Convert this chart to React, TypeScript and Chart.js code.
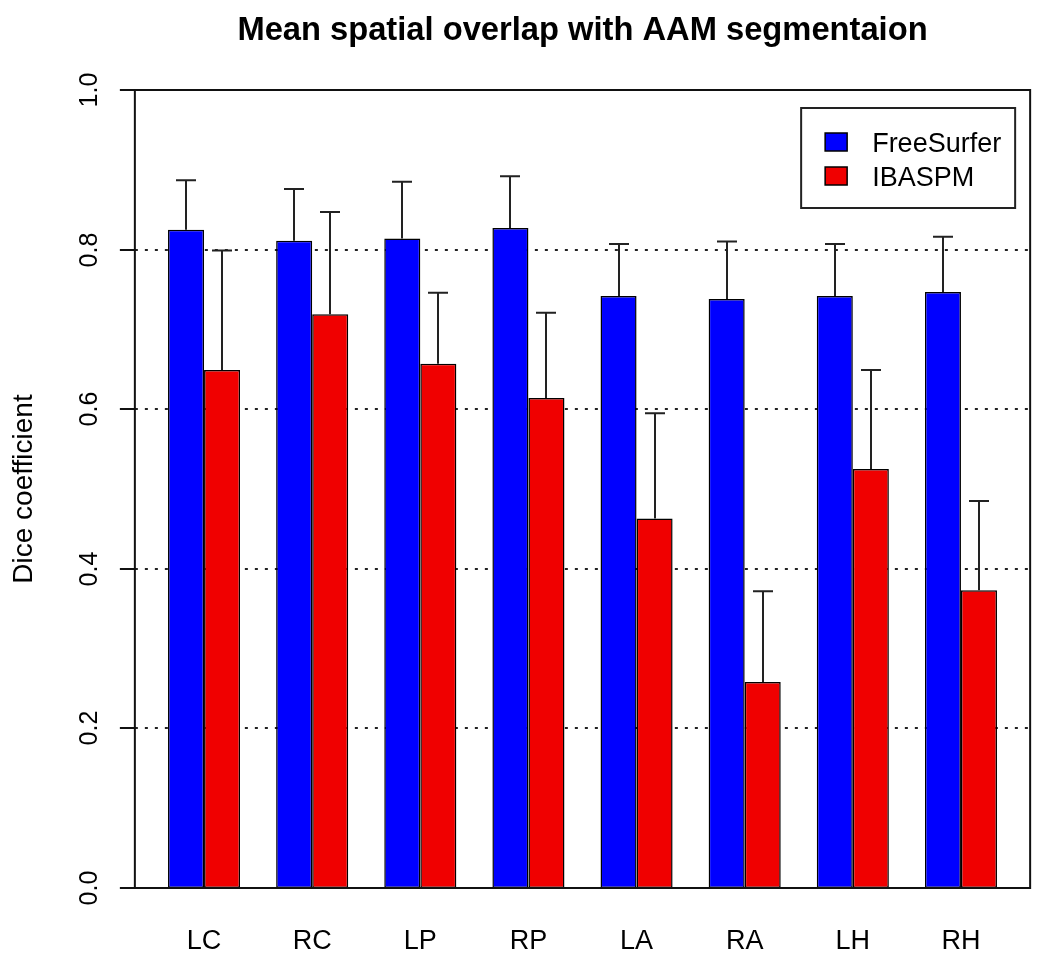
import React, { useEffect, useRef } from "react";
import { Chart, registerables } from "chart.js";

Chart.register(...registerables);

const CATEGORIES = ["LC", "RC", "LP", "RP", "LA", "RA", "LH", "RH"];
const SERIES_NAMES = ["FreeSurfer", "IBASPM"];
const FREESURFER_MEAN = [0.825, 0.811, 0.814, 0.827, 0.742, 0.738, 0.742, 0.747];
const FREESURFER_SD = [0.062, 0.065, 0.071, 0.065, 0.065, 0.072, 0.065, 0.069];
const IBASPM_MEAN = [0.649, 0.719, 0.657, 0.614, 0.463, 0.258, 0.525, 0.373];
const IBASPM_SD = [0.15, 0.128, 0.089, 0.107, 0.132, 0.114, 0.124, 0.112];
const Y_TICKS = [0, 0.2, 0.4, 0.6, 0.8, 1.0];
const Y_TICK_LABELS = ["0.0", "0.2", "0.4", "0.6", "0.8", "1.0"];
const TITLE = "Mean spatial overlap with AAM segmentaion";
const Y_TITLE = "Dice coefficient";
const COLORS = ["#0000ff", "#f00000"];

const FONT = '"Liberation Sans", Arial, Helvetica, sans-serif';

const rPlugin = {
  id: "rStyle",
  beforeDatasetsDraw(chart: any) {
    const { ctx } = chart;
    const x = chart.scales.x;
    const y = chart.scales.y;
    const ext = ((x.right - x.left) * 0.42) / 24;
    const L = x.left - ext;
    const R = x.right + ext;
    ctx.save();
    ctx.strokeStyle = "#222";
    ctx.lineWidth = 2;
    ctx.setLineDash([3, 7]);
    Y_TICKS.forEach((v) => {
      const py = Math.round(y.getPixelForValue(v));
      ctx.beginPath();
      ctx.moveTo(L, py);
      ctx.lineTo(R, py);
      ctx.stroke();
    });
    ctx.restore();
  },
  afterDatasetsDraw(chart: any) {
    const { ctx } = chart;
    const x = chart.scales.x;
    const y = chart.scales.y;
    const ext = ((x.right - x.left) * 0.42) / 24;
    const L = x.left - ext;
    const R = x.right + ext;
    const sds = [FREESURFER_SD, IBASPM_SD];

    ctx.save();
    // error bars
    ctx.strokeStyle = "#222";
    ctx.lineWidth = 2;
    chart.data.datasets.forEach((ds: any, di: number) => {
      const meta = chart.getDatasetMeta(di);
      meta.data.forEach((bar: any, i: number) => {
        const mean = ds.data[i];
        const top = y.getPixelForValue(mean + sds[di][i]);
        const bx = Math.round(bar.x);
        ctx.beginPath();
        ctx.moveTo(bx, bar.y);
        ctx.lineTo(bx, top);
        ctx.moveTo(bx - 10, top);
        ctx.lineTo(bx + 10, top);
        ctx.stroke();
      });
    });

    // box
    ctx.strokeStyle = "#111";
    ctx.lineWidth = 2;
    ctx.strokeRect(L, y.top, R - L, y.bottom - y.top);

    // y ticks and labels
    ctx.fillStyle = "#000";
    ctx.font = `25px ${FONT}`;
    Y_TICKS.forEach((v, i) => {
      const py = Math.round(y.getPixelForValue(v));
      ctx.beginPath();
      ctx.moveTo(L - 15, py);
      ctx.lineTo(L, py);
      ctx.stroke();
      ctx.save();
      ctx.translate(L - 38, py);
      ctx.rotate(-Math.PI / 2);
      ctx.textAlign = "center";
      ctx.textBaseline = "alphabetic";
      ctx.fillText(Y_TICK_LABELS[i], 0, 0);
      ctx.restore();
    });

    // x labels
    ctx.font = `27px ${FONT}`;
    ctx.textAlign = "center";
    ctx.textBaseline = "alphabetic";
    CATEGORIES.forEach((c, i) => {
      ctx.fillText(c, x.getPixelForTick(i), y.bottom + 61);
    });

    // y title
    ctx.save();
    ctx.font = `28px ${FONT}`;
    ctx.translate(L - 103, (y.top + y.bottom) / 2);
    ctx.rotate(-Math.PI / 2);
    ctx.textAlign = "center";
    ctx.fillText(Y_TITLE, 0, 0);
    ctx.restore();

    // title
    ctx.font = `bold 32.7px ${FONT}`;
    ctx.textAlign = "center";
    ctx.fillText(TITLE, (L + R) / 2, 40);

    // legend
    const lx = R - 229;
    const ly = y.top + 18;
    ctx.strokeStyle = "#222";
    ctx.lineWidth = 2;
    ctx.strokeRect(lx, ly, 214, 100);
    ctx.font = `27px ${FONT}`;
    ctx.textAlign = "left";
    chart.data.datasets.forEach((ds: any, di: number) => {
      const sy = ly + 25 + di * 34;
      ctx.fillStyle = ds.backgroundColor;
      ctx.fillRect(lx + 24, sy, 22, 18);
      ctx.lineWidth = 1.5;
      ctx.strokeStyle = "#000";
      ctx.strokeRect(lx + 24, sy, 22, 18);
      ctx.fillStyle = "#000";
      ctx.fillText(ds.label, lx + 71, sy + 19);
    });
    ctx.restore();
  },
};

export default function App() {
  const ref = useRef<HTMLCanvasElement | null>(null);
  useEffect(() => {
    document.body.style.margin = "0";
    const canvas = ref.current;
    if (!canvas) return;
    const chart = new Chart(canvas, {
      type: "bar",
      data: {
        labels: CATEGORIES,
        datasets: [
          {
            label: SERIES_NAMES[0],
            data: FREESURFER_MEAN,
            backgroundColor: COLORS[0],
            borderColor: "#000",
            borderWidth: 1.5,
            borderSkipped: false,
          },
          {
            label: SERIES_NAMES[1],
            data: IBASPM_MEAN,
            backgroundColor: COLORS[1],
            borderColor: "#000",
            borderWidth: 1.5,
            borderSkipped: false,
          },
        ],
      },
      options: {
        responsive: false,
        animation: false,
        devicePixelRatio: 1,
        categoryPercentage: 2 / 3,
        barPercentage: 1,
        layout: { padding: { left: 150, right: 35, top: 90, bottom: 91 } },
        plugins: {
          legend: { display: false },
          tooltip: { enabled: false },
          title: { display: false },
        },
        scales: {
          x: { display: false },
          y: { display: false, min: 0, max: 1 },
        },
      } as any,
      plugins: [rPlugin as any],
    });
    return () => chart.destroy();
  }, []);
  return (
    <div style={{ background: "#fff" }}>
      <canvas ref={ref} width={1050} height={979} style={{ display: "block" }} />
    </div>
  );
}
